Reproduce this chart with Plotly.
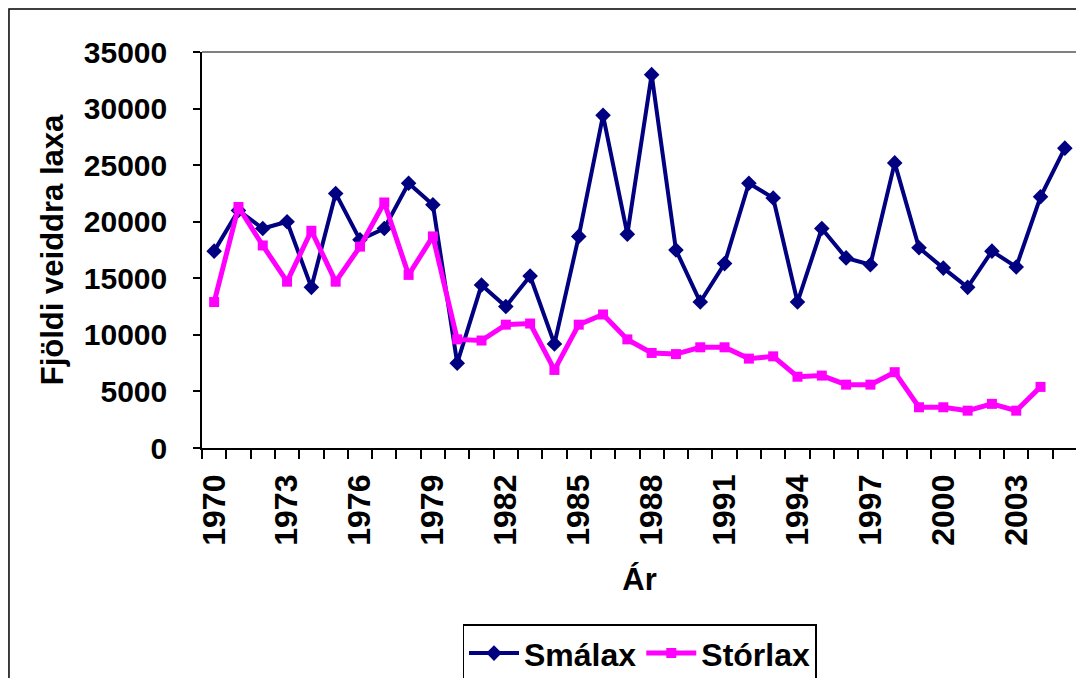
import plotly.graph_objects as go

years = list(range(1970, 2006))
smalax = [17400, 21000, 19400, 20000, 14200, 22500, 18400, 19400, 23400, 21500,
          7500, 14400, 12500, 15200, 9200, 18700, 29400, 18900, 33000, 17500,
          12900, 16300, 23400, 22100, 12900, 19400, 16800, 16200, 25200, 17700,
          15900, 14200, 17400, 16000, 22200, 26500]
storlax = [12900, 21300, 17900, 14700, 19200, 14700, 17800, 21700, 15300, 18700,
           9600, 9500, 10900, 11000, 6900, 10900, 11800, 9600, 8400, 8300,
           8900, 8900, 7900, 8100, 6300, 6400, 5600, 5600, 6700, 3600,
           3600, 3300, 3900, 3300, 5400, None]
tick_years = list(range(1970, 2004, 3))
tick_labels = [str(y) for y in tick_years]
boundaries = [y - 0.5 for y in range(1970, 2007)]

FONT = "Liberation Sans, Arial, sans-serif"

fig = go.Figure()
fig.add_trace(go.Scatter(
    x=years, y=smalax, name="Smálax", mode="lines+markers",
    line=dict(color="#000080", width=4),
    marker=dict(symbol="diamond", size=12, color="#000080"),
))
fig.add_trace(go.Scatter(
    x=years, y=storlax, name="Stórlax", mode="lines+markers",
    line=dict(color="#FF00FF", width=5),
    marker=dict(symbol="square", size=10, color="#FF00FF"),
))

fig.update_layout(
    width=1084, height=678, autosize=False,
    margin=dict(l=194, r=15, t=44, b=238),
    paper_bgcolor="white", plot_bgcolor="white",
    font=dict(family=FONT, color="black"),
    showlegend=True,
    legend=dict(
        orientation="h", x=0.5, xanchor="center",
        yref="container", y=0.091, yanchor="top",
        bordercolor="black", borderwidth=1.5, bgcolor="white",
        font=dict(family=FONT, size=32, color="black", weight="bold"),
        itemwidth=50, tracegroupgap=0,
    ),
    xaxis=dict(
        range=[1969.5, 2005.5], automargin=False,
        tickmode="array", tickvals=tick_years, ticktext=tick_labels,
        tickangle=-90, ticks="", ticklabelstandoff=12,
        tickfont=dict(family=FONT, size=32, color="black", weight="bold"),
        showline=True, linecolor="black", linewidth=1.5,
        showgrid=False, zeroline=False,
        minor=dict(tickmode="array", tickvals=boundaries, ticks="outside",
                   ticklen=9, tickcolor="black", tickwidth=1.5, showgrid=False),
        title=dict(text="Ár", standoff=24,
                   font=dict(family=FONT, size=31, color="black", weight="bold")),
    ),
    yaxis=dict(
        range=[0, 35000], automargin=False,
        tickmode="linear", tick0=0, dtick=5000, tickformat="d",
        ticks="outside", ticklen=7, tickcolor="black", tickwidth=1.5,
        ticklabelstandoff=20,
        tickfont=dict(family=FONT, size=30, color="black", weight="bold"),
        showline=True, linecolor="black", linewidth=1.5,
        showgrid=False, zeroline=False,
        title=dict(text="Fjöldi veiddra laxa", standoff=11,
                   font=dict(family=FONT, size=31, color="black", weight="bold")),
    ),
)

# gray top and right border of plot area
fig.add_shape(type="line", xref="paper", yref="paper", x0=0, x1=1, y0=1, y1=1,
              line=dict(color="#808080", width=2), layer="below")
fig.add_shape(type="line", xref="paper", yref="paper", x0=1, x1=1, y0=0, y1=1,
              line=dict(color="#808080", width=2), layer="below")
# outer chart frame
fig.add_shape(type="rect", xref="paper", yref="paper",
              x0=-0.2206, x1=1.05, y0=-0.7, y1=1.1086,
              line=dict(color="black", width=1.5), fillcolor="rgba(0,0,0,0)",
              layer="below")

fig.write_html("out.html")
